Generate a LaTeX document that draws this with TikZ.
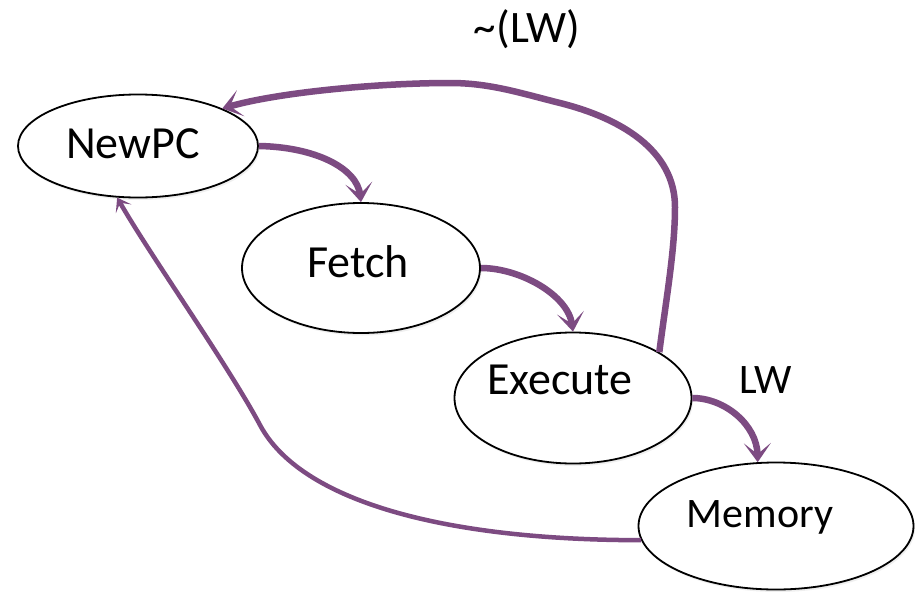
\documentclass[tikz,border=0pt]{standalone}
\usepackage{fontspec}
\setmainfont{Carlito}
\usetikzlibrary{arrows.meta,shapes.geometric,shadows}
\definecolor{flow}{RGB}{125,75,130}
\begin{document}
\begin{tikzpicture}[x=1pt,y=-1pt,
  state/.style={ellipse, draw=black, line width=1.8pt, fill=white, inner sep=0pt,
    drop shadow={opacity=0.12, shadow xshift=1.5pt, shadow yshift=-2.5pt}},
  tag/.style={anchor=base, inner sep=0pt, font=\fontsize{46}{50}\selectfont},
  flowline/.style={draw=flow, line width=6.5pt, -{Stealth[length=19pt,width=27pt,inset=11pt]}},
  thinflow/.style={draw=flow, line width=4.5pt, -{Stealth[length=13pt,width=18pt,inset=7pt]}},
]
\path[use as bounding box, fill=white] (0,0) rectangle (922,592);

% states
\node[state, minimum width=240pt, minimum height=103pt] (newpc) at (138,146) {};
\node[state, minimum width=238pt, minimum height=130pt] (fetch) at (361,268) {};
\node[state, minimum width=237pt, minimum height=131pt] (exec) at (573,398) {};
\node[state, minimum width=275pt, minimum height=127pt] (mem) at (776,526) {};

% state names
\node[tag] (newpct) at (133,158) {NewPC};
\node[tag] (fetcht) at (358,277) {Fetch};
\node[tag] (exect) at (560,394) {Execute};
\node[tag, font=\fontsize{42}{46}\selectfont] (memt) at (760,527) {Memory};

% edge labels
\node[tag, font=\fontsize{45}{50}\selectfont] (notlw) at (527,42) {\textasciitilde(LW)};
\node[tag, font=\fontsize{42}{46}\selectfont] (lw) at (766,393) {LW};

% transitions
\draw[flowline] (newpc.east) .. controls (315,147) and (357,168) .. (fetch.north);
\draw[flowline] (fetch.east) .. controls (520,268) and (568,295) .. (exec.north);
\draw[flowline] (exec.east) .. controls (725,398) and (757,425) .. (mem.106);
\draw[flowline] (exec.28) .. controls (666,300) and (675,250) .. (675,207)
  .. controls (675,150) and (620,118) .. (560,103)
  .. controls (520,93) and (490,83) .. (450,83)
  .. controls (380,83) and (280,92) .. (newpc.24);
\draw[thinflow] (mem.186) .. controls (440,540) and (300,500) .. (260,425)
  .. controls (228,365) and (150,255) .. (newpc.248);
\end{tikzpicture}
\end{document}
